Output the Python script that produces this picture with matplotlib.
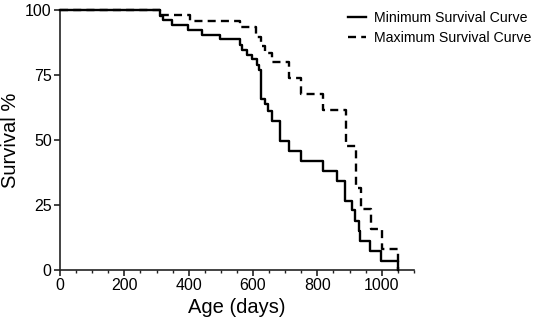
import matplotlib
matplotlib.use("Agg")
import matplotlib.pyplot as plt
from matplotlib.ticker import MultipleLocator

plt.rcParams['font.family'] = ['Liberation Sans', 'DejaVu Sans']

# Minimum survival curve (Kaplan-Meier style steps)
min_days = [0, 311, 321, 347, 398, 440, 497, 559, 567, 580, 596, 611, 619,
            626, 637, 647, 658, 684, 712, 750, 818, 860, 885, 908, 916,
            928, 933, 965, 999, 1051]
min_surv = [100, 97.8, 96.0, 94.4, 92.3, 90.5, 88.7, 86.5, 84.6, 82.7, 81.1,
            78.8, 76.9, 65.7, 63.8, 61.2, 57.3, 49.5, 45.6, 41.8, 38.0, 34.3,
            26.6, 23.0, 18.8, 15.0, 11.2, 7.3, 3.5, 0]

# Maximum survival curve
max_days = [0, 311, 404, 559, 608, 624, 637, 658, 711, 749, 818, 889, 921,
            934, 968, 1002, 1051]
max_surv = [100, 98.0, 95.9, 93.6, 89.8, 86.0, 83.5, 80.0, 73.8, 67.6, 61.5,
            47.7, 31.4, 23.6, 15.7, 7.9, 0]

x_ticks = [0, 200, 400, 600, 800, 1000]
y_ticks = [0, 25, 50, 75, 100]

fig = plt.figure(figsize=(5.33, 3.27), dpi=100)
ax = fig.add_axes([0.1126, 0.1743, 0.664, 0.795])

ax.step(max_days, max_surv, where='post', color='black', lw=1.7,
        linestyle=(0, (3.4, 2.2)), clip_on=False, label='Maximum Survival Curve',
        zorder=2)
ax.step(min_days, min_surv, where='post', color='black', lw=1.7,
        clip_on=False, label='Minimum Survival Curve', zorder=3)

ax.set_xlim(0, 1100)
ax.set_ylim(0, 100)
ax.set_xticks(x_ticks)
ax.set_yticks(y_ticks)
ax.xaxis.set_minor_locator(MultipleLocator(50))

for s in ['top', 'right']:
    ax.spines[s].set_visible(False)
for s in ['left', 'bottom']:
    ax.spines[s].set_linewidth(1.2)
    ax.spines[s].set_color('#222222')

ax.tick_params(axis='both', which='major', length=4, width=1.2, pad=2,
               labelsize=11.5, colors='#222222', labelcolor='black')
ax.tick_params(axis='x', which='minor', length=2.5, width=1.0, colors='#222222')

ax.set_xlabel('Age (days)', fontsize=14.5, labelpad=3)
ax.set_ylabel('Survival %', fontsize=14.5, labelpad=4)

handles, labels = ax.get_legend_handles_labels()
order = [1, 0]
leg = ax.legend([handles[i] for i in order], [labels[i] for i in order],
                loc='upper left', bbox_to_anchor=(0.652, 0.967),
                bbox_transform=fig.transFigure, frameon=False, fontsize=10.2,
                handlelength=1.3, handletextpad=0.6, labelspacing=0.45,
                borderpad=0, borderaxespad=0)

fig.savefig('out.png', dpi=100)
